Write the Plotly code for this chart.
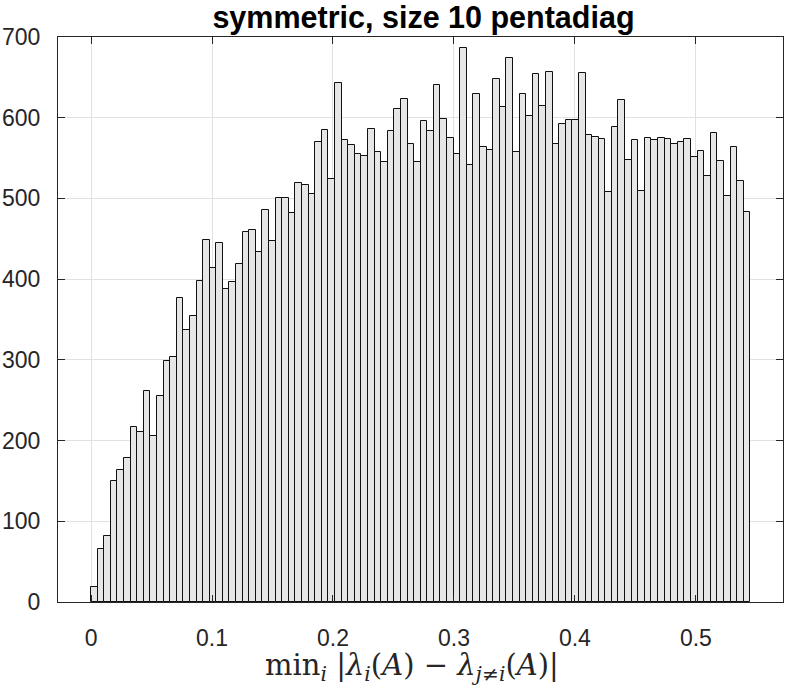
import numpy as np
import plotly.graph_objects as go

# histogram: 100 equal bins starting at 0
BIN_START = 0.0
BIN_WIDTH = 0.00545
COUNTS = [
    18, 66, 82, 150, 163, 179, 217, 211, 262, 206,
    255, 298, 304, 377, 337, 354, 398, 449, 414, 445,
    388, 397, 419, 459, 461, 434, 486, 447, 500, 500,
    482, 519, 517, 505, 570, 585, 524, 643, 573, 566,
    555, 552, 586, 557, 545, 584, 611, 623, 567, 545,
    596, 584, 640, 599, 575, 555, 686, 542, 630, 564,
    560, 648, 613, 674, 558, 630, 602, 654, 614, 657,
    568, 592, 597, 597, 655, 578, 576, 574, 508, 588,
    622, 547, 573, 509, 575, 573, 575, 574, 568, 570,
    574, 551, 559, 528, 581, 546, 503, 564, 521, 483,
]
X_TICKS = [0, 0.1, 0.2, 0.3, 0.4, 0.5]
X_TICK_LABELS = ["0", "0.1", "0.2", "0.3", "0.4", "0.5"]
Y_TICKS = [0, 100, 200, 300, 400, 500, 600, 700]

AXIS_COLOR = "#262626"
GRID_COLOR = "#e1e1e1"

centers = BIN_START + BIN_WIDTH * (np.arange(len(COUNTS)) + 0.5)

fig = go.Figure()
fig.add_trace(
    go.Bar(
        x=centers,
        y=COUNTS,
        width=BIN_WIDTH,
        marker=dict(color="#e6e6e6", line=dict(color="#111111", width=1)),
        hoverinfo="x+y",
    )
)

axis_common = dict(
    showline=True,
    linecolor=AXIS_COLOR,
    linewidth=1,
    mirror="ticks",
    ticks="inside",
    ticklen=7,
    tickcolor=AXIS_COLOR,
    showgrid=True,
    gridcolor=GRID_COLOR,
    gridwidth=1,
    zeroline=False,
    automargin=False,
    tickfont=dict(family="Liberation Sans", size=23, color=AXIS_COLOR),
)

fig.update_xaxes(
    **axis_common,
    range=[-0.0273, 0.572],
    tickvals=X_TICKS,
    ticktext=X_TICK_LABELS,
    ticklabelstandoff=15,
)
fig.update_yaxes(
    **axis_common,
    range=[0, 700],
    tickvals=Y_TICKS,
    ticklabelstandoff=12,
)

# x label as an annotation so it can sit exactly where the reference has it
fig.add_annotation(
    text="min<sub><i>i</i></sub> |<i>λ</i><sub><i>i</i></sub>(<i>A</i>) − "
    "<i>λ</i><sub><i>j</i>≠<i>i</i></sub>(<i>A</i>)|",
    font=dict(family="DejaVu Serif", size=29, color=AXIS_COLOR),
    xref="paper",
    yref="paper",
    x=0.4883,
    y=0,
    xanchor="center",
    yanchor="top",
    yshift=-44,
    showarrow=False,
)

fig.update_layout(
    width=788,
    height=691,
    plot_bgcolor="white",
    paper_bgcolor="white",
    bargap=0,
    showlegend=False,
    margin=dict(l=58, r=5, t=37, b=89),
    title=dict(
        text="<b>symmetric, size 10 pentadiag</b>",
        font=dict(family="Liberation Sans", size=30.5, color="black"),
        x=0.5374,
        xanchor="center",
        yref="container",
        y=0.990,
        yanchor="top",
        automargin=False,
    ),
)

# drop the page's default body margin so the figure starts at the corner
fig.write_html(
    "out.html",
    config={"displayModeBar": False},
    post_script="document.body.style.margin = '0';",
)
